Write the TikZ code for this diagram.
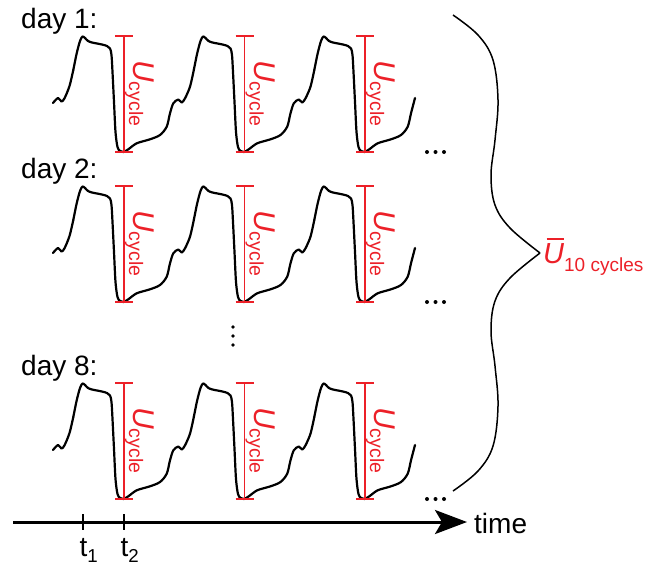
\documentclass[tikz,border=0pt]{standalone}
\usepackage{fontspec}
\setmainfont{Liberation Sans}
\usetikzlibrary{arrows.meta}
\definecolor{ured}{RGB}{236,32,40}
\newcommand\subtxt[1]{\raisebox{-4.5pt}{\fontsize{19.5}{20}\selectfont #1}}
\newcommand\Ucyc{{\fontsize{30}{30}\selectfont\itshape U}\subtxt{cycle}}
\tikzset{
  wave/.style={line width=2.2pt, line join=round, line cap=round},
  redbar/.style={draw=ured, line width=1.8pt},
  lbl/.style={inner sep=0pt, anchor=base west, font=\fontsize{28}{30}\selectfont},
  ulbl/.style={inner sep=0pt, text=ured, rotate=-90, anchor=base west},
  brace/.style={line width=1.5pt},
  axis/.style={line width=3pt, -{Stealth[length=32pt,width=24pt,inset=7pt]}},
  tick/.style={line width=1.8pt},
  wstart/.pic={\draw[wave] plot[smooth,tension=0.5] coordinates {(-71,-49) (-66,-54) (-62.5,-50.5) (-59.5,-53.7) (-54.5,-66) (-50.7,-82)};},
  wbody/.pic={\draw[wave] plot[smooth,tension=0.5] coordinates {(-50.7,-82) (-47.3,-98.7) (-44,-111) (-41.5,-115.5) (-39,-114) (-36,-111) (-32,-109.5) (-27,-108.5) (-22,-107.5) (-17,-106) (-14,-103.5) (-12.5,-97) (-11.5,-80) (-10,-50) (-8.5,-20) (-6.5,-5) (-4,-1) (-0.7,0) (4.3,-2.7) (12.7,-8.7) (26,-12.7) (36,-17) (42.7,-25.3) (46,-38.7) (49.3,-48.7) (54.3,-52.5) (57.7,-49.5) (61,-53.7) (66,-65.3) (69.8,-82)};},
  wlast/.pic={\draw[wave] plot[smooth,tension=0.5] coordinates {(-50.7,-82) (-47.3,-98.7) (-44,-111) (-41.5,-115.5) (-39,-114) (-36,-111) (-32,-109.5) (-27,-108.5) (-22,-107.5) (-17,-106) (-14,-103.5) (-12.5,-97) (-11.5,-80) (-10,-50) (-8.5,-20) (-6.5,-5) (-4,-1) (-0.7,0) (4.3,-2.7) (12.7,-8.7) (26,-12.7) (36,-17) (42.7,-25.3) (46,-38.7) (50,-54)};}
}
\begin{document}
\begin{tikzpicture}[x=1pt,y=-1pt]
\useasboundingbox (0,0) rectangle (652,566);
\foreach \r/\oy/\d in {1/0/1,2/150/2,3/347/8}{
  \node[lbl] (day\r) at (21,28+\oy) {day \d:};
  \pic at (124,152+\oy) {wstart};
  \foreach \c/\bx in {1/124,2/244.5,3/365}{
    \ifnum\c=3
      \pic at (\bx,152+\oy) {wlast};
    \else
      \pic at (\bx,152+\oy) {wbody};
    \fi
    \coordinate (top\r\c) at (\bx,36+\oy);
    \coordinate (bot\r\c) at (\bx,152+\oy);
    \draw[redbar] (top\r\c) -- (bot\r\c)
      ([xshift=-9pt]top\r\c) -- ([xshift=9pt]top\r\c)
      ([xshift=-9pt]bot\r\c) -- ([xshift=9pt]bot\r\c);
    \node[ulbl] (u\r\c) at (\bx+9.5,60+\oy) {\Ucyc};
  }
  \foreach \k in {0,1,2}{
    \fill (427+8.5*\k,152+\oy) circle (2);
  }
}
% vertical dots
\foreach \k in {0,1,2}{
  \fill (233,327+9*\k) circle (1.8);
}
% brace
\coordinate (btop) at (453,15);
\coordinate (btip) at (540,253);
\coordinate (bbot) at (453,491);
\draw[brace] plot[smooth,tension=0.6] coordinates {(btop) (478,35) (493,60) (498,100) (495,140) (491,175) (495,205) (510,228) (btip)};
\draw[brace] plot[smooth,tension=0.6] coordinates {(btip) (510,278) (495,301) (491,331) (495,366) (498,406) (493,446) (478,471) (bbot)};
\node[inner sep=0pt, anchor=base west, text=ured] (ubar) at (543,263)
  {{\fontsize{29}{30}\selectfont\itshape\makebox[0pt][l]{\hspace{3.5pt}\rule[23.5pt]{17.5pt}{1.8pt}}U}\raisebox{-8pt}{\fontsize{19}{20}\selectfont 10 cycles}};
% axis
\coordinate (axs) at (13,522);
\coordinate (axe) at (467,522);
\draw[axis] (axs) -- (axe);
\node[lbl] (time) at (474,533) {time};
\coordinate (t1) at (83,522);
\coordinate (t2) at (124,522);
\draw[tick] ([yshift=8pt]t1) -- ([yshift=-8pt]t1);
\draw[tick] ([yshift=8pt]t2) -- ([yshift=-8pt]t2);
\node[lbl] (lt1) at (79.5,556) {t\raisebox{-6pt}{\fontsize{18.7}{20}\selectfont 1}};
\node[lbl] (lt2) at (120.5,556) {t\raisebox{-6pt}{\fontsize{18.7}{20}\selectfont 2}};
\end{tikzpicture}
\end{document}
